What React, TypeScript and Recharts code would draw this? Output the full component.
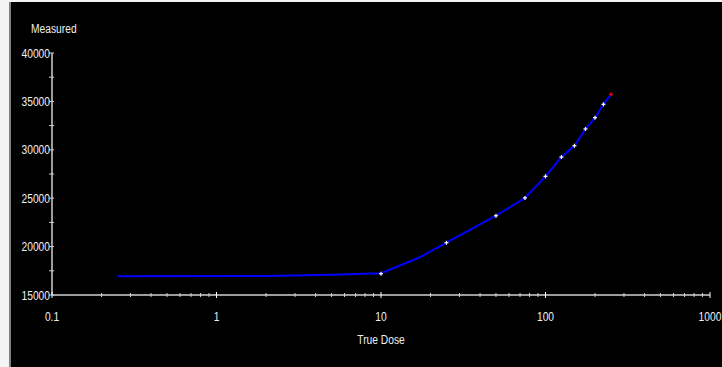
import React from "react";
import { LineChart, Line, XAxis, YAxis } from "recharts";

// fitted calibration curve (blue)
const fitDose = [0.25, 2, 5, 8, 10, 17, 25, 50, 75, 100, 125, 150, 175, 200, 225, 250];
const fitValue = [16930, 16960, 17100, 17200, 17250, 18850, 20400, 23190, 25030, 27260, 29250, 30420, 32150, 33320, 34700, 35730];

// measured standards (white crosses, last one red)
const standardDose = [10, 25, 50, 75, 100, 125, 150, 175, 200, 225, 250];
const standardValue = [17200, 20400, 23190, 25030, 27260, 29250, 30420, 32150, 33320, 34700, 35730];

const xMajorTicks = [0.1, 1, 10, 100, 1000];
const xTicks = [
  0.1, 0.2, 0.3, 0.4, 0.5, 0.6, 0.7, 0.8, 0.9,
  1, 2, 3, 4, 5, 6, 7, 8, 9,
  10, 20, 30, 40, 50, 60, 70, 80, 90,
  100, 200, 300, 400, 500, 600, 700, 800, 900,
  1000
];
const yTicks = [15000, 17500, 20000, 22500, 25000, 27500, 30000, 32500, 35000, 37500, 40000];

const fitData = fitDose.map((d, i) => ({ dose: d, value: fitValue[i] }));
const standardData = standardDose.map((d, i) => ({ dose: d, value: standardValue[i] }));

const FONT = "'Liberation Sans', Arial, sans-serif";
const FONT_SIZE = 12.5;
const SQUEEZE = 0.82; // old narrow system font
const TEXT = "#F0F0F0";
const AXIS = "#D0D0D0";

const NarrowText = ({ x, y, anchor, children }: any) => (
  <text
    transform={`translate(${x},${y}) scale(${SQUEEZE},1)`}
    textAnchor={anchor}
    fill={TEXT}
    fontFamily={FONT}
    fontSize={FONT_SIZE}
  >
    {children}
  </text>
);

const XTick = (props: any) => {
  const { x, y, payload } = props;
  const major = xMajorTicks.includes(payload.value);
  return (
    <g>
      <line x1={x} x2={x} y1={major ? y - 3 : y - 2} y2={major ? y + 3 : y + 2} stroke={major ? "#FFFFFF" : AXIS} strokeWidth={1} />
      {major && (
        <NarrowText x={x} y={y + 26} anchor="middle">
          {payload.value}
        </NarrowText>
      )}
    </g>
  );
};

const YTick = (props: any) => {
  const { x, y, payload } = props;
  const major = payload.value % 5000 === 0;
  return (
    <g>
      <line x1={x - 3} x2={x + 2} y1={y} y2={y} stroke={AXIS} strokeWidth={1} />
      {major && (
        <NarrowText x={x - 2} y={y + 4.5} anchor="end">
          {payload.value}
        </NarrowText>
      )}
    </g>
  );
};

const StandardDot = (props: any) => {
  const { cx, cy, index } = props;
  const color = index === standardData.length - 1 ? "#FF0000" : "#FFFFFF";
  return (
    <g key={`dot-${index}`}>
      <line x1={cx - 2} x2={cx + 2} y1={cy} y2={cy} stroke={color} strokeWidth={1.2} />
      <line x1={cx} x2={cx} y1={cy - 2} y2={cy + 2} stroke={color} strokeWidth={1.2} />
    </g>
  );
};

const labelStyle: React.CSSProperties = {
  position: "absolute",
  fontFamily: FONT,
  fontSize: FONT_SIZE,
  color: TEXT,
  lineHeight: "14px",
  whiteSpace: "nowrap",
  transform: `scaleX(${SQUEEZE})`,
};

export default function App() {
  return (
    <div style={{ position: "fixed", left: 0, top: 0, width: 722, height: 367, background: "#F4F4F4", overflow: "hidden" }}>
      <div style={{ position: "absolute", left: 9, top: 2, width: 2, bottom: 0, background: "#808080" }} />
      <div style={{ position: "absolute", left: 11, top: 2, right: 0, bottom: 0, background: "#000000" }} />
      <div style={{ ...labelStyle, left: 31, top: 22, transformOrigin: "left center" }}>Measured</div>
      <div style={{ ...labelStyle, left: 331, width: 100, textAlign: "center", top: 333, transformOrigin: "center center" }}>
        True Dose
      </div>
      <div style={{ position: "absolute", left: 0, top: 0 }}>
        <LineChart width={722} height={367} margin={{ top: 53, right: 12, bottom: 0, left: 2 }}>
          <XAxis
            dataKey="dose"
            type="number"
            scale="log"
            domain={[0.1, 1000]}
            ticks={xTicks}
            interval={0}
            allowDataOverflow
            height={72}
            tickSize={0}
            tickMargin={0}
            tickLine={false}
            axisLine={{ stroke: AXIS, strokeWidth: 1.5 }}
            tick={<XTick />}
          />
          <YAxis
            dataKey="value"
            type="number"
            domain={[15000, 40000]}
            ticks={yTicks}
            interval={0}
            width={50}
            tickSize={0}
            tickMargin={0}
            tickLine={false}
            axisLine={{ stroke: AXIS, strokeWidth: 1.5 }}
            tick={<YTick />}
          />
          <Line
            data={fitData}
            dataKey="value"
            type="linear"
            stroke="#0000FF"
            strokeWidth={2}
            dot={false}
            activeDot={false}
            isAnimationActive={false}
          />
          <Line
            data={standardData}
            dataKey="value"
            type="linear"
            stroke="none"
            dot={<StandardDot />}
            activeDot={false}
            isAnimationActive={false}
          />
        </LineChart>
      </div>
    </div>
  );
}
